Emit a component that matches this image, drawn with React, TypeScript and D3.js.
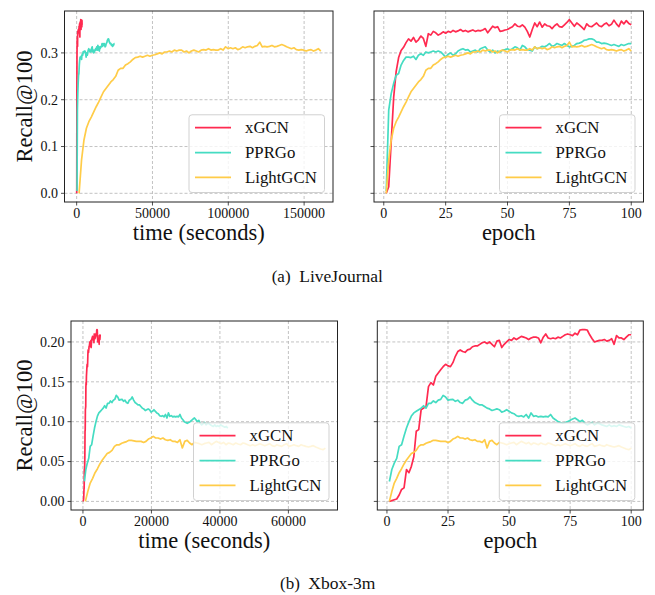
import React from 'react';
import * as d3 from 'd3';

// ---------- data ----------
const epochs = d3.range(1, 101);

const ljXgcn = [0.000,0.014,0.110,0.205,0.260,0.290,0.305,0.312,0.322,0.330,
0.325,0.333,0.323,0.328,0.336,0.331,0.314,0.341,0.338,0.346,
0.343,0.338,0.341,0.345,0.342,0.346,0.344,0.348,0.345,0.347,
0.350,0.346,0.348,0.345,0.347,0.349,0.346,0.348,0.347,0.349,
0.352,0.343,0.350,0.357,0.354,0.356,0.346,0.347,0.349,0.350,
0.353,0.356,0.362,0.357,0.356,0.360,0.355,0.346,0.334,0.350,
0.364,0.356,0.366,0.355,0.362,0.358,0.357,0.352,0.358,0.362,
0.356,0.355,0.360,0.365,0.371,0.364,0.357,0.364,0.360,0.355,
0.350,0.362,0.357,0.356,0.360,0.364,0.358,0.356,0.361,0.364,
0.358,0.361,0.370,0.362,0.356,0.368,0.362,0.369,0.363,0.360];

const ljPprgo = [0.005,0.178,0.213,0.235,0.252,0.256,0.274,0.284,0.291,0.291,
0.290,0.293,0.286,0.295,0.298,0.295,0.302,0.300,0.302,0.304,
0.302,0.304,0.302,0.297,0.291,0.297,0.300,0.295,0.298,0.304,
0.307,0.309,0.306,0.307,0.302,0.304,0.306,0.302,0.309,0.311,
0.313,0.306,0.302,0.306,0.300,0.304,0.302,0.306,0.307,0.309,
0.306,0.309,0.313,0.311,0.306,0.316,0.313,0.307,0.306,0.304,
0.313,0.309,0.311,0.314,0.313,0.316,0.320,0.314,0.316,0.320,
0.318,0.316,0.320,0.316,0.313,0.314,0.316,0.320,0.321,0.323,
0.327,0.328,0.330,0.330,0.328,0.323,0.323,0.320,0.321,0.320,
0.318,0.316,0.318,0.316,0.314,0.318,0.316,0.318,0.320,0.320];

const ljLightgcn = [0.000,0.071,0.114,0.139,0.153,0.163,0.174,0.185,0.195,0.206,
0.217,0.224,0.231,0.238,0.243,0.250,0.263,0.267,0.267,0.274,
0.277,0.281,0.286,0.290,0.291,0.293,0.291,0.293,0.295,0.293,
0.295,0.296,0.298,0.300,0.298,0.302,0.302,0.304,0.302,0.306,
0.304,0.306,0.306,0.302,0.304,0.300,0.304,0.306,0.304,0.302,
0.306,0.307,0.306,0.309,0.306,0.307,0.306,0.306,0.309,0.306,
0.313,0.309,0.311,0.309,0.311,0.307,0.309,0.313,0.311,0.313,
0.314,0.311,0.314,0.316,0.323,0.313,0.314,0.313,0.314,0.316,
0.313,0.314,0.316,0.318,0.316,0.313,0.311,0.309,0.311,0.307,
0.306,0.307,0.306,0.304,0.306,0.307,0.304,0.306,0.309,0.304];

const xbXgcn = [0.000,0.001,0.002,0.003,0.008,0.015,0.017,0.040,0.036,0.044,
0.056,0.088,0.090,0.115,0.117,0.119,0.144,0.149,0.146,0.157,
0.161,0.165,0.169,0.172,0.170,0.169,0.174,0.182,0.188,0.190,
0.188,0.187,0.190,0.191,0.194,0.195,0.195,0.197,0.199,0.200,
0.198,0.200,0.197,0.194,0.201,0.202,0.193,0.197,0.200,0.203,
0.202,0.205,0.203,0.205,0.207,0.206,0.205,0.203,0.205,0.206,
0.206,0.205,0.199,0.206,0.210,0.205,0.204,0.205,0.204,0.206,
0.205,0.207,0.209,0.210,0.209,0.208,0.211,0.209,0.215,0.2155,
0.2155,0.215,0.209,0.204,0.200,0.201,0.202,0.202,0.203,0.201,
0.202,0.204,0.197,0.208,0.205,0.205,0.203,0.206,0.209,0.209];

const xbPprgo = [0.025,0.040,0.048,0.054,0.069,0.071,0.082,0.092,0.100,0.107,
0.111,0.113,0.115,0.117,0.120,0.117,0.123,0.123,0.126,0.124,
0.127,0.128,0.133,0.131,0.127,0.1276,0.128,0.1255,0.127,0.124,
0.123,0.127,0.128,0.131,0.127,0.124,0.1226,0.121,0.121,0.119,
0.117,0.116,0.114,0.115,0.116,0.115,0.112,0.113,0.115,0.113,
0.111,0.110,0.1075,0.1067,0.1075,0.106,0.109,0.1046,0.111,0.1067,
0.1075,0.106,0.1067,0.106,0.1067,0.106,0.109,0.1046,0.1025,0.100,
0.099,0.098,0.099,0.100,0.1017,0.1033,0.1046,0.1025,0.100,0.1017,
0.098,0.096,0.0975,0.099,0.096,0.098,0.0975,0.096,0.095,0.094,
0.096,0.094,0.095,0.094,0.096,0.095,0.094,0.093,0.094,0.092];

const xbLightgcn = [0.000,0.0125,0.023,0.029,0.036,0.041,0.047,0.052,0.056,0.060,
0.0615,0.064,0.069,0.071,0.071,0.073,0.074,0.075,0.0766,0.0766,
0.076,0.0753,0.0753,0.0753,0.074,0.0753,0.0782,0.0795,0.0816,0.0795,
0.0795,0.0782,0.0795,0.0774,0.0766,0.0774,0.0753,0.0753,0.074,0.0774,
0.067,0.0753,0.0766,0.0732,0.0711,0.074,0.0732,0.0724,0.0711,0.0724,
0.0732,0.074,0.0711,0.0732,0.0753,0.074,0.0724,0.074,0.0711,0.0732,
0.0724,0.0711,0.0732,0.072,0.0711,0.0732,0.0724,0.0711,0.0699,0.0711,
0.0699,0.0711,0.0724,0.0711,0.0699,0.0711,0.0724,0.0699,0.069,0.0711,
0.0699,0.069,0.0711,0.0724,0.069,0.0699,0.0711,0.0699,0.069,0.0711,
0.0699,0.069,0.0682,0.069,0.0699,0.0682,0.067,0.0657,0.0649,0.0668];

const ljSecXgcn = 36;
const ljSecPprgo = 250;
const ljSecLightgcn = 1610;
const xbSecXgcn = 51;
const xbSecPprgo = 423;
const xbSecLightgcn = 708;

const methodNames = ['xGCN', 'PPRGo', 'LightGCN'];
const methodColors = ['#ff2a50', '#45dcc2', '#ffcc48'];

const ljTimeTicks = [0, 50000, 100000, 150000];
const xbTimeTicks = [0, 20000, 40000, 60000];
const epochTicks = [0, 25, 50, 75, 100];
const ljYTicks = [0, 0.1, 0.2, 0.3];
const xbYTicks = [0, 0.05, 0.1, 0.15, 0.2];

// ---------- drawing ----------
const FONT = '"Liberation Serif", "Times New Roman", Times, serif';

type Series = { xs: number[]; ys: number[]; color: string; name: string };

function padDomain(vals: number[]): [number, number] {
  const [lo, hi] = d3.extent(vals) as [number, number];
  const m = (hi - lo) * 0.05;
  return [lo - m, hi + m];
}

function Panel(props: {
  id: string;
  x0: number; x1: number; y0: number; y1: number;
  series: Series[];
  yDomainVals: number[];
  xTicks: number[]; yTicks: number[];
  yFmt: (v: number) => string;
  showYLabels: boolean;
  xLabel: string;
  yLabel?: string;
}) {
  const { id, x0, x1, y0, y1, series, xTicks, yTicks, yFmt, showYLabels, xLabel, yLabel } = props;
  const allX = series.flatMap((s) => s.xs);
  const xScale = d3.scaleLinear().domain(padDomain(allX)).range([x0, x1]);
  const yScale = d3.scaleLinear().domain(padDomain(props.yDomainVals)).range([y1, y0]);
  const line = d3
    .line<[number, number]>()
    .x((d) => xScale(d[0]))
    .y((d) => yScale(d[1]));
  const gridColor = '#b4b4b4';
  const lw = 36;
  const boxW = 135.5;
  const boxH = 77.7;
  const bx = x1 - 8.5 - boxW;
  const by = y1 - 9.5 - boxH;
  const rowYs = [12.8, 37.8, 62.5];
  return (
    <g>
      <defs>
        <clipPath id={id}>
          <rect x={x0} y={y0} width={x1 - x0} height={y1 - y0} />
        </clipPath>
      </defs>
      {xTicks.map((t) => (
        <line key={'gx' + t} x1={xScale(t)} x2={xScale(t)} y1={y0} y2={y1}
          stroke={gridColor} strokeWidth={0.8} strokeDasharray="3,2" />
      ))}
      {yTicks.map((t) => (
        <line key={'gy' + t} x1={x0} x2={x1} y1={yScale(t)} y2={yScale(t)}
          stroke={gridColor} strokeWidth={0.8} strokeDasharray="3,2" />
      ))}
      <g clipPath={`url(#${id})`}>
        {series.map((s) => (
          <path key={s.name}
            d={line(s.xs.map((x, i) => [x, s.ys[i]] as [number, number])) || ''}
            fill="none" stroke={s.color} strokeWidth={1.7} strokeLinejoin="round" />
        ))}
      </g>
      <rect x={bx} y={by} width={boxW} height={boxH} rx={3} ry={3}
        fill="#ffffff" fillOpacity={0.8} stroke="#cccccc" strokeWidth={0.9} />
      {series.map((s, i) => (
        <g key={'lg' + s.name}>
          <line x1={bx + 6} x2={bx + 6 + lw} y1={by + rowYs[i]} y2={by + rowYs[i]}
            stroke={s.color} strokeWidth={1.7} />
          <text x={bx + 56} y={by + rowYs[i] + 5.8} fontFamily={FONT} fontSize={16.8} fill="#111">
            {s.name}
          </text>
        </g>
      ))}
      <rect x={x0} y={y0} width={x1 - x0} height={y1 - y0} fill="none" stroke="#222" strokeWidth={1} />
      {xTicks.map((t) => (
        <g key={'tx' + t}>
          <line x1={xScale(t)} x2={xScale(t)} y1={y1} y2={y1 + 3.5} stroke="#222" strokeWidth={0.8} />
          <text x={xScale(t)} y={y1 + 16} textAnchor="middle" fontFamily={FONT} fontSize={14} fill="#111">
            {String(t)}
          </text>
        </g>
      ))}
      {yTicks.map((t) => (
        <g key={'ty' + t}>
          <line x1={x0 - 3.5} x2={x0} y1={yScale(t)} y2={yScale(t)} stroke="#222" strokeWidth={0.8} />
          {showYLabels && (
            <text x={x0 - 6.5} y={yScale(t) + 4.8} textAnchor="end" fontFamily={FONT} fontSize={14} fill="#111">
              {yFmt(t)}
            </text>
          )}
        </g>
      ))}
      <text x={(x0 + x1) / 2} y={y1 + 38} textAnchor="middle" fontFamily={FONT} fontSize={22.5} fill="#111">
        {xLabel}
      </text>
      {yLabel && (
        <text transform={`translate(31.5,${(y0 + y1) / 2}) rotate(-90)`} textAnchor="middle"
          fontFamily={FONT} fontSize={22.5} fill="#111">
          {yLabel}
        </text>
      )}
    </g>
  );
}

function mk(vals: number[][], secs: number[] | null): Series[] {
  return vals.map((ys, i) => ({
    name: methodNames[i],
    color: methodColors[i],
    ys,
    xs: secs ? epochs.map((e) => e * secs[i]) : epochs,
  }));
}

export default function App() {
  const ljVals = [ljXgcn, ljPprgo, ljLightgcn];
  const xbVals = [xbXgcn, xbPprgo, xbLightgcn];
  const ljAll = ljVals.flat();
  const xbAll = xbVals.flat();
  const f1 = d3.format('.1f');
  const f2 = d3.format('.2f');
  return (
    <svg width={655} height={595} style={{ position: 'absolute', left: 0, top: 0, background: '#fff' }}>
      <rect x={0} y={0} width={655} height={595} fill="#fff" />
      <Panel id="c1" x0={64.5} x1={333} y0={11} y1={202} series={mk(ljVals, [ljSecXgcn, ljSecPprgo, ljSecLightgcn])}
        yDomainVals={ljAll} xTicks={ljTimeTicks} yTicks={ljYTicks} yFmt={f1} showYLabels
        xLabel="time (seconds)" yLabel="Recall@100" />
      <Panel id="c2" x0={374} x1={643.5} y0={11} y1={202} series={mk(ljVals, null)}
        yDomainVals={ljAll} xTicks={epochTicks} yTicks={ljYTicks} yFmt={f1} showYLabels={false}
        xLabel="epoch" />
      <Panel id="c3" x0={71} x1={337.5} y0={321} y1={510} series={mk(xbVals, [xbSecXgcn, xbSecPprgo, xbSecLightgcn])}
        yDomainVals={xbAll} xTicks={xbTimeTicks} yTicks={xbYTicks} yFmt={f2} showYLabels
        xLabel="time (seconds)" yLabel="Recall@100" />
      <Panel id="c4" x0={377.3} x1={643.3} y0={321} y1={510} series={mk(xbVals, null)}
        yDomainVals={xbAll} xTicks={epochTicks} yTicks={xbYTicks} yFmt={f2} showYLabels={false}
        xLabel="epoch" />
      <text x={271.7} y={282} fontFamily={FONT} fontSize={17} fill="#111">(a)</text>
      <text x={299.3} y={282} fontFamily={FONT} fontSize={17.5} fill="#111">LiveJournal</text>
      <text x={280} y={588.5} fontFamily={FONT} fontSize={17} fill="#111">(b)</text>
      <text x={308.3} y={588.5} fontFamily={FONT} fontSize={17.5} fill="#111">Xbox-3m</text>
    </svg>
  );
}
